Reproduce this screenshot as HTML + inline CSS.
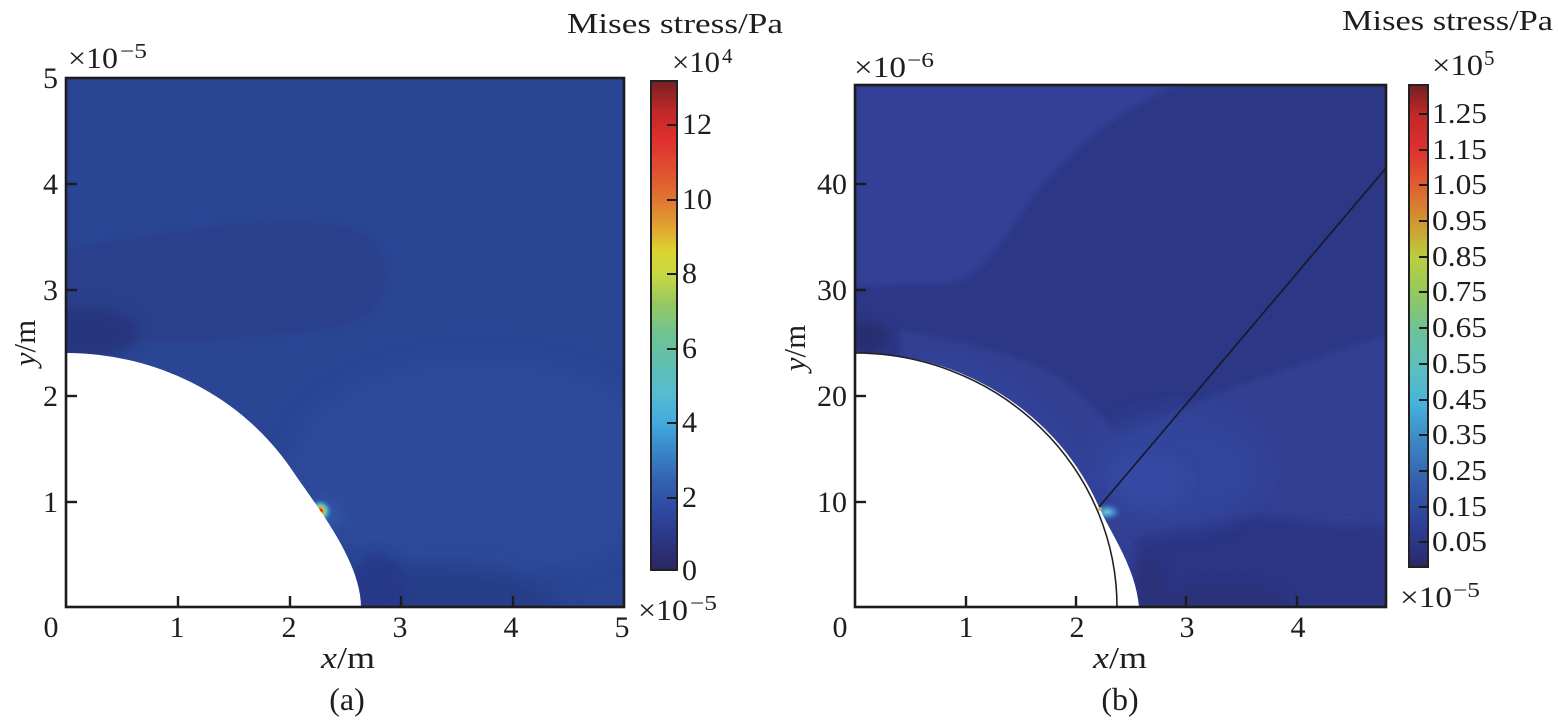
<!DOCTYPE html>
<html>
<head>
<meta charset="utf-8">
<style>
html,body{margin:0;padding:0;background:#fff;}
svg{display:block;}
text{font-family:"Liberation Serif",serif;fill:#1e1e1e;}
</style>
</head>
<body>
<svg width="1558" height="726" viewBox="0 0 1558 726" xmlns="http://www.w3.org/2000/svg">
<defs>
  <clipPath id="clipL"><rect x="66" y="78" width="558" height="529"/></clipPath>
  <clipPath id="clipR"><rect x="855" y="85" width="531" height="522"/></clipPath>
  <filter id="b3" x="-20%" y="-20%" width="140%" height="140%"><feGaussianBlur stdDeviation="3"/></filter>
  <filter id="b6" x="-30%" y="-30%" width="160%" height="160%"><feGaussianBlur stdDeviation="6"/></filter>
  <filter id="b12" x="-40%" y="-40%" width="180%" height="180%"><feGaussianBlur stdDeviation="12"/></filter>
  <linearGradient id="cbL" x1="0" y1="1" x2="0" y2="0">
    <stop offset="0" stop-color="#2a2862"/>
    <stop offset="0.061" stop-color="#2c3684"/>
    <stop offset="0.121" stop-color="#2e48a0"/>
    <stop offset="0.182" stop-color="#3462b0"/>
    <stop offset="0.242" stop-color="#3a84c8"/>
    <stop offset="0.303" stop-color="#44acde"/>
    <stop offset="0.364" stop-color="#58bcd0"/>
    <stop offset="0.424" stop-color="#60c0b0"/>
    <stop offset="0.485" stop-color="#70c490"/>
    <stop offset="0.545" stop-color="#98c860"/>
    <stop offset="0.606" stop-color="#c8d840"/>
    <stop offset="0.652" stop-color="#dcd430"/>
    <stop offset="0.697" stop-color="#e0a830"/>
    <stop offset="0.758" stop-color="#e07430"/>
    <stop offset="0.818" stop-color="#e05030"/>
    <stop offset="0.879" stop-color="#e03030"/>
    <stop offset="0.939" stop-color="#c02828"/>
    <stop offset="1" stop-color="#782024"/>
  </linearGradient>
  <linearGradient id="cbR" x1="0" y1="1" x2="0" y2="0">
    <stop offset="0" stop-color="#2a2a62"/>
    <stop offset="0.038" stop-color="#2c3280"/>
    <stop offset="0.113" stop-color="#2e48a0"/>
    <stop offset="0.188" stop-color="#3664b0"/>
    <stop offset="0.263" stop-color="#3c88c4"/>
    <stop offset="0.338" stop-color="#48b2dc"/>
    <stop offset="0.414" stop-color="#5cc0c0"/>
    <stop offset="0.489" stop-color="#6cc298"/>
    <stop offset="0.564" stop-color="#90c860"/>
    <stop offset="0.639" stop-color="#b8d040"/>
    <stop offset="0.714" stop-color="#d09830"/>
    <stop offset="0.789" stop-color="#e06030"/>
    <stop offset="0.865" stop-color="#e03030"/>
    <stop offset="0.940" stop-color="#c02828"/>
    <stop offset="1" stop-color="#702024"/>
  </linearGradient>
  <radialGradient id="hotL">
    <stop offset="0" stop-color="#701010"/>
    <stop offset="0.15" stop-color="#e03020"/>
    <stop offset="0.3" stop-color="#e0b030"/>
    <stop offset="0.45" stop-color="#80d090"/>
    <stop offset="0.65" stop-color="#50b8d8" stop-opacity="0.7"/>
    <stop offset="1" stop-color="#3a70c8" stop-opacity="0"/>
  </radialGradient>
  <radialGradient id="haloL">
    <stop offset="0" stop-color="#3a6cc0" stop-opacity="0.55"/>
    <stop offset="1" stop-color="#2a4594" stop-opacity="0"/>
  </radialGradient>
  <radialGradient id="hotR">
    <stop offset="0" stop-color="#70c8c8"/>
    <stop offset="0.35" stop-color="#50a8d8" stop-opacity="0.8"/>
    <stop offset="0.7" stop-color="#4070c0" stop-opacity="0.4"/>
    <stop offset="1" stop-color="#3450a8" stop-opacity="0"/>
  </radialGradient>
</defs>

<!-- ============ LEFT PLOT ============ -->
<g clip-path="url(#clipL)">
  <rect x="66" y="78" width="558" height="529" fill="#2a4594"/>
  <path d="M66,248 C150,238 260,212 335,224 C392,234 398,282 372,310 C345,336 280,332 200,342 L66,342 Z" fill="#293f8c" filter="url(#b3)"/>
  <ellipse cx="88" cy="333" rx="50" ry="26" fill="#28367e" filter="url(#b6)"/>
  <ellipse cx="480" cy="470" rx="190" ry="110" fill="#2e4b9c" filter="url(#b12)" opacity="0.8"/>
  <ellipse cx="430" cy="607" rx="130" ry="42" fill="#283c88" filter="url(#b12)"/>
  <ellipse cx="378" cy="590" rx="28" ry="36" fill="#27388a" filter="url(#b6)"/>
  <circle cx="326" cy="515" r="30" fill="url(#haloL)"/>
  <circle cx="320" cy="511" r="12" fill="url(#hotL)"/>
  <path d="M66,353 A268,254 0 0,1 292,470 C314,503 361,560 361,607 L66,607 Z" fill="#ffffff"/>
</g>
<rect x="66" y="78" width="558" height="529" fill="none" stroke="#1c1c1c" stroke-width="2.6"/>
<g stroke="#1c1c1c" stroke-width="2.4">
  <line x1="178" y1="607" x2="178" y2="596"/>
  <line x1="290" y1="607" x2="290" y2="596"/>
  <line x1="401" y1="607" x2="401" y2="596"/>
  <line x1="513" y1="607" x2="513" y2="596"/>
  <line x1="66" y1="184" x2="77" y2="184"/>
  <line x1="66" y1="290" x2="77" y2="290"/>
  <line x1="66" y1="396" x2="77" y2="396"/>
  <line x1="66" y1="502" x2="77" y2="502"/>
</g>
<g font-size="30" text-anchor="end">
  <text x="58" y="88">5</text>
  <text x="58" y="194">4</text>
  <text x="58" y="300">3</text>
  <text x="58" y="406">2</text>
  <text x="58" y="512">1</text>
</g>
<g font-size="30" text-anchor="middle">
  <text x="51" y="637">0</text>
  <text x="177" y="637">1</text>
  <text x="289" y="637">2</text>
  <text x="400" y="637">3</text>
  <text x="511" y="637">4</text>
  <text x="622" y="637">5</text>
</g>
<text x="68" y="68" font-size="30" textLength="50" lengthAdjust="spacingAndGlyphs">×10</text>
<text x="120" y="58" font-size="21" textLength="27" lengthAdjust="spacingAndGlyphs">−5</text>
<text x="638" y="620" font-size="30" textLength="50" lengthAdjust="spacingAndGlyphs">×10</text>
<text x="690" y="610" font-size="21" textLength="27" lengthAdjust="spacingAndGlyphs">−5</text>
<text x="321" y="668" font-size="31" textLength="54" lengthAdjust="spacingAndGlyphs"><tspan font-style="italic">x</tspan>/m</text>
<text x="347" y="710" font-size="32" text-anchor="middle">(a)</text>
<text transform="translate(35,343) rotate(-90)" font-size="31" text-anchor="middle"><tspan font-style="italic">y</tspan>/m</text>

<!-- left colorbar -->
<rect x="651" y="81" width="26" height="489" fill="url(#cbL)" stroke="#222" stroke-width="2"/>
<g stroke="#1c1c1c" stroke-width="2">
  <line x1="667" y1="125" x2="677" y2="125"/>
  <line x1="667" y1="200" x2="677" y2="200"/>
  <line x1="667" y1="274" x2="677" y2="274"/>
  <line x1="667" y1="349" x2="677" y2="349"/>
  <line x1="667" y1="423" x2="677" y2="423"/>
  <line x1="667" y1="498" x2="677" y2="498"/>
</g>
<g font-size="30">
  <text x="682" y="134">12</text>
  <text x="682" y="209">10</text>
  <text x="682" y="283">8</text>
  <text x="682" y="358">6</text>
  <text x="682" y="432">4</text>
  <text x="682" y="507">2</text>
  <text x="682" y="580">0</text>
</g>
<text x="672" y="72" font-size="30" textLength="48" lengthAdjust="spacingAndGlyphs">×10</text>
<text x="722" y="63" font-size="21">4</text>
<text x="567" y="33" font-size="29" textLength="216" lengthAdjust="spacingAndGlyphs">Mises stress/Pa</text>

<!-- ============ RIGHT PLOT ============ -->
<g clip-path="url(#clipR)">
  <rect x="855" y="85" width="531" height="522" fill="#2c3786"/>
  <path d="M855,85 L1180,85 C1120,108 1075,148 1045,182 C1005,232 985,282 945,284 L855,286 Z" fill="#333f95" filter="url(#b3)"/>
  <path d="M900,330 C960,340 1010,352 1050,372 C1085,392 1105,420 1122,440 C1150,428 1190,400 1240,385 C1300,365 1350,345 1390,335 L1390,610 L1130,610 L900,560 Z" fill="#303f93" filter="url(#b3)"/>
  <path d="M930,352 C1000,365 1060,410 1100,500 L1090,505 C1050,440 1000,390 920,368 Z" fill="#32429a" filter="url(#b6)"/>
  <path d="M1135,540 C1190,520 1260,512 1300,520 C1340,530 1370,522 1390,525 L1390,610 L1135,610 Z" fill="#2c3684" filter="url(#b6)"/>
  <ellipse cx="1225" cy="606" rx="65" ry="22" fill="#2a3278" filter="url(#b6)"/>
  <ellipse cx="1150" cy="585" rx="16" ry="26" fill="#2a3378" filter="url(#b6)"/>
  <ellipse cx="1175" cy="470" rx="85" ry="55" fill="#32459c" filter="url(#b12)"/>
  <ellipse cx="1150" cy="480" rx="38" ry="26" fill="#3649a2" filter="url(#b6)"/>
  <ellipse cx="865" cy="338" rx="24" ry="17" fill="#272e70" filter="url(#b6)"/>
  <ellipse cx="1107" cy="512" rx="16" ry="10" fill="url(#hotR)"/>
  <path d="M855,353 A262,254 0 0,1 1099,507 C1110,532 1136,568 1139,607 L855,607 Z" fill="#ffffff"/>
  <path d="M855,353 A262,254 0 0,1 1117,607" fill="none" stroke="#222" stroke-width="1.6"/>
  <line x1="1099" y1="507" x2="1386" y2="168" stroke="#1a1a2a" stroke-width="1.7"/>
  <circle cx="1100" cy="509" r="1.8" fill="#d0b040"/>
</g>
<rect x="855" y="85" width="531" height="522" fill="none" stroke="#1c1c1c" stroke-width="2.6"/>
<g stroke="#1c1c1c" stroke-width="2.4">
  <line x1="966" y1="607" x2="966" y2="596"/>
  <line x1="1076" y1="607" x2="1076" y2="596"/>
  <line x1="1186" y1="607" x2="1186" y2="596"/>
  <line x1="1297" y1="607" x2="1297" y2="596"/>
  <line x1="855" y1="184" x2="866" y2="184"/>
  <line x1="855" y1="290" x2="866" y2="290"/>
  <line x1="855" y1="396" x2="866" y2="396"/>
  <line x1="855" y1="502" x2="866" y2="502"/>
</g>
<g font-size="30" text-anchor="end">
  <text x="847" y="194">40</text>
  <text x="847" y="300">30</text>
  <text x="847" y="406">20</text>
  <text x="847" y="512">10</text>
</g>
<g font-size="30" text-anchor="middle">
  <text x="840" y="637">0</text>
  <text x="966" y="637">1</text>
  <text x="1077" y="637">2</text>
  <text x="1187" y="637">3</text>
  <text x="1298" y="637">4</text>
</g>
<text x="854" y="77" font-size="30" textLength="52" lengthAdjust="spacingAndGlyphs">×10</text>
<text x="907" y="67" font-size="21" textLength="27" lengthAdjust="spacingAndGlyphs">−6</text>
<text x="1400" y="607" font-size="30" textLength="52" lengthAdjust="spacingAndGlyphs">×10</text>
<text x="1453" y="597" font-size="21" textLength="27" lengthAdjust="spacingAndGlyphs">−5</text>
<text x="1093" y="668" font-size="31" textLength="54" lengthAdjust="spacingAndGlyphs"><tspan font-style="italic">x</tspan>/m</text>
<text x="1120" y="710" font-size="32" text-anchor="middle">(b)</text>
<text transform="translate(805,348) rotate(-90)" font-size="31" text-anchor="middle"><tspan font-style="italic">y</tspan>/m</text>

<!-- right colorbar -->
<rect x="1409" y="85" width="19" height="482" fill="url(#cbR)" stroke="#222" stroke-width="2"/>
<g stroke="#1c1c1c" stroke-width="2">
  <line x1="1419" y1="114" x2="1428" y2="114"/>
  <line x1="1419" y1="150" x2="1428" y2="150"/>
  <line x1="1419" y1="185" x2="1428" y2="185"/>
  <line x1="1419" y1="221" x2="1428" y2="221"/>
  <line x1="1419" y1="257" x2="1428" y2="257"/>
  <line x1="1419" y1="292" x2="1428" y2="292"/>
  <line x1="1419" y1="328" x2="1428" y2="328"/>
  <line x1="1419" y1="364" x2="1428" y2="364"/>
  <line x1="1419" y1="400" x2="1428" y2="400"/>
  <line x1="1419" y1="435" x2="1428" y2="435"/>
  <line x1="1419" y1="471" x2="1428" y2="471"/>
  <line x1="1419" y1="507" x2="1428" y2="507"/>
  <line x1="1419" y1="542" x2="1428" y2="542"/>
</g>
<g font-size="28">
  <text x="1432" y="123" textLength="55" lengthAdjust="spacingAndGlyphs">1.25</text>
  <text x="1432" y="159" textLength="55" lengthAdjust="spacingAndGlyphs">1.15</text>
  <text x="1432" y="194" textLength="55" lengthAdjust="spacingAndGlyphs">1.05</text>
  <text x="1432" y="230" textLength="55" lengthAdjust="spacingAndGlyphs">0.95</text>
  <text x="1432" y="266" textLength="55" lengthAdjust="spacingAndGlyphs">0.85</text>
  <text x="1432" y="301" textLength="55" lengthAdjust="spacingAndGlyphs">0.75</text>
  <text x="1432" y="337" textLength="55" lengthAdjust="spacingAndGlyphs">0.65</text>
  <text x="1432" y="373" textLength="55" lengthAdjust="spacingAndGlyphs">0.55</text>
  <text x="1432" y="409" textLength="55" lengthAdjust="spacingAndGlyphs">0.45</text>
  <text x="1432" y="444" textLength="55" lengthAdjust="spacingAndGlyphs">0.35</text>
  <text x="1432" y="480" textLength="55" lengthAdjust="spacingAndGlyphs">0.25</text>
  <text x="1432" y="516" textLength="55" lengthAdjust="spacingAndGlyphs">0.15</text>
  <text x="1432" y="551" textLength="55" lengthAdjust="spacingAndGlyphs">0.05</text>
</g>
<text x="1432" y="75" font-size="30" textLength="51" lengthAdjust="spacingAndGlyphs">×10</text>
<text x="1484" y="65" font-size="21">5</text>
<text x="1342" y="30" font-size="29" textLength="211" lengthAdjust="spacingAndGlyphs">Mises stress/Pa</text>
</svg>
</body>
</html>
